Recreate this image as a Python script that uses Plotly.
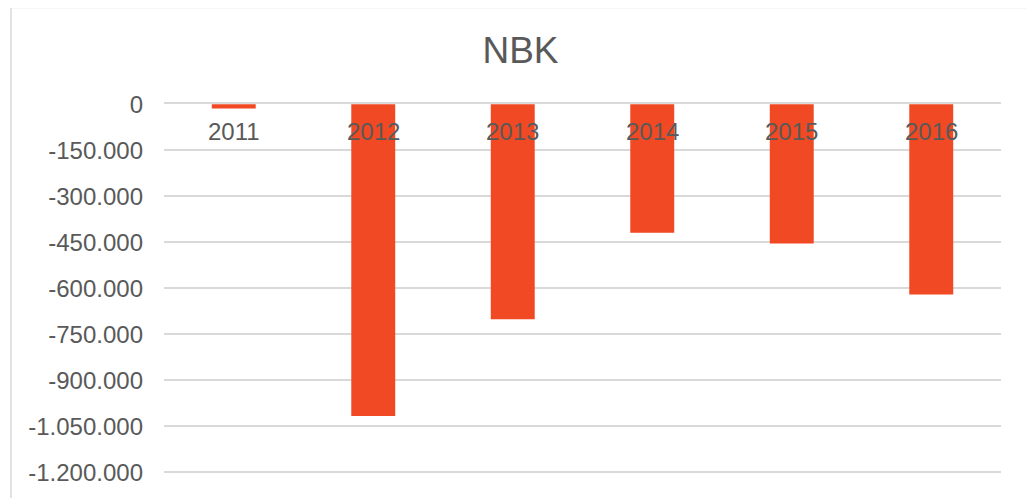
import plotly.graph_objects as go

years = ["2011", "2012", "2013", "2014", "2015", "2016"]
values = [-14000, -1017000, -701500, -419000, -454000, -621000]
ytick_vals = [0, -150000, -300000, -450000, -600000, -750000, -900000, -1050000, -1200000]
ytick_text = ["0", "-150.000", "-300.000", "-450.000", "-600.000", "-750.000",
              "-900.000", "-1.050.000", "-1.200.000"]

OFF = 8  # page body margin
W, H = 1034 - OFF, 498 - OFF
L, R, T, B = 164 - OFF, 33, 104 - OFF, 24
pw, ph = W - L - R, H - T - B

fig = go.Figure(go.Bar(x=years, y=values, marker_color="#F04923",
                       marker_line_width=0, width=0.315))

font = "Arial, Liberation Sans, sans-serif"
# category index positions for the labels below the zero line
annotations = [dict(x=i, y=0, xref="x", yref="y", text=yr, showarrow=False,
                    yanchor="middle", yshift=-27,
                    font=dict(size=24, color="#595959", family=font))
               for i, yr in enumerate(years)]

fig.update_layout(
    width=W, height=H,
    margin=dict(l=L, r=R, t=T, b=B),
    plot_bgcolor="white", paper_bgcolor="white",
    showlegend=False,
    font=dict(family=font, color="#595959", size=24),
    title=dict(text="NBK", x=(520.5 - OFF) / W, xref="container", xanchor="center",
               y=1 - (50 - OFF) / H, yref="container", yanchor="middle",
               font=dict(size=37, color="#595959", family=font)),
    xaxis=dict(type="category", side="top", showline=True, showticklabels=False,
               range=[-0.5, len(years) - 0.5],
               linecolor="#D9D9D9", linewidth=1.5, showgrid=False, ticks=""),
    yaxis=dict(range=[-1206000, 600], tickvals=ytick_vals, ticktext=ytick_text,
               showgrid=True, gridcolor="#D9D9D9", gridwidth=1.5,
               zeroline=False, showline=False, ticks="",
               ticklabelstandoff=20,
               tickfont=dict(size=24, color="#595959")),
    annotations=annotations,
    shapes=[dict(type="rect", xref="paper", yref="paper",
                 x0=(11 - 164) / pw, x1=(1030 - 164) / pw,
                 y0=-40 / ph, y1=1 + (104 - 7.5) / ph,
                 line=dict(color="#D9D9D9", width=1.5), fillcolor="rgba(0,0,0,0)",
                 layer="below")],
)

fig.write_html("out.html")
